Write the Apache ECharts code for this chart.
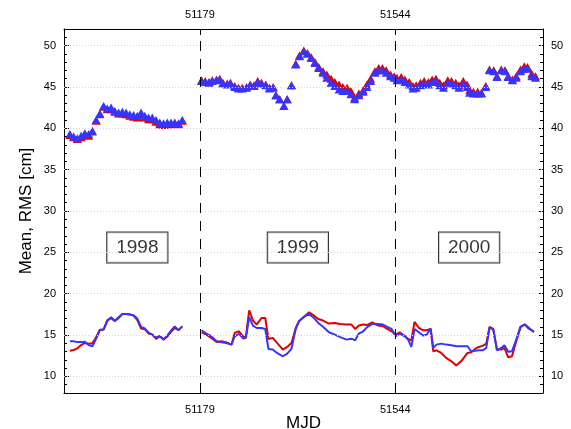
<!DOCTYPE html>
<html><head><meta charset="utf-8">
<script src="https://cdn.jsdelivr.net/npm/echarts@6/dist/echarts.min.js"></script>
<style>html,body{margin:0;padding:0;background:#fff}#c{width:571px;height:429px}</style>
</head><body><div id="c"></div>
<script>
// ---- data ----
const mjd98 = [50936,50943,50950,50957,50964,50971,50978,50985,50992,50999,51006,51013,51020,51027,51034,51041,51048,51055,51062,51069,51076,51083,51090,51097,51104,51111,51118,51125,51132,51139,51146];
const meanBlue98 = [39.3,39.0,38.8,39.1,39.4,39.3,39.7,41.0,41.8,42.7,42.4,42.5,42.1,41.9,42.0,41.9,41.7,41.6,41.5,41.9,41.5,41.3,41.3,41.0,40.7,40.6,40.7,40.7,40.7,40.6,41.0];
const meanRed98 = [39.2,38.9,38.7,38.9,39.2,39.1,39.6,40.9,41.7,42.6,42.3,42.3,42.0,41.8,41.8,41.7,41.5,41.4,41.3,41.7,41.3,41.1,41.1,40.8,40.5,40.4,40.5,40.5,40.6,40.5,40.9];
const rmsBlue98 = [14.25,14.25,14.15,14.15,14.2,13.8,13.65,14.55,15.6,15.7,16.7,17.15,16.7,17.15,17.55,17.55,17.5,17.4,17.0,16.0,15.8,15.3,15.05,14.7,14.9,14.5,14.95,15.55,16.05,15.6,16.05];
const rmsRed98 = [13.1,13.2,13.4,13.8,14.05,13.95,14.0,14.75,15.65,15.65,16.8,17.05,16.7,17.05,17.55,17.55,17.5,17.35,16.8,15.8,15.7,15.2,15.05,14.55,14.85,14.45,14.8,15.4,15.85,15.6,16.05];

const mjdMean99 = [51182,51189,51196,51202,51210,51216,51222,51230,51236,51244,51251,51258,51266,51273,51280,51287,51294,51302,51309,51316,51321,51328,51336,51342,51350,51358,51365,51373,51380,51387,51394,51401,51409,51416,51424,51431,51439,51446,51454,51461,51468,51476,51484,51491,51498,51506,51513,51520,51527,51535,51542,
  51547,51555,51562,51570,51577,51583,51591,51598,51606,51613,51620,51627,51634,51642,51649,51657,51663,51671,51678,51683,51690,51698,51705,51713,51720,51728,51734,51742,51749,51755,51763,51770,51778,51785,51791,51799,51806];
const meanBlue99 = [45.7,45.6,45.5,45.7,45.8,45.9,45.4,45.3,45.4,45.0,44.8,44.8,44.9,45.2,45.1,45.6,45.4,45.2,44.8,44.9,44.0,43.5,42.7,43.5,45.2,47.7,48.7,49.3,49.0,48.5,47.9,47.3,46.7,46.1,45.5,45.1,44.7,44.5,44.5,44.1,43.5,44.0,44.4,45.0,45.7,46.7,47.0,47.0,46.7,46.3,46.1,
  45.8,45.9,45.6,45.3,44.8,44.9,45.2,45.4,45.3,45.6,45.7,45.2,44.9,45.5,45.4,45.2,44.9,45.4,45.0,44.3,44.2,44.2,44.2,45.0,47.0,46.9,46.2,47.0,46.9,46.2,45.8,46.1,46.9,47.2,47.2,46.3,46.1];
const meanRed99 = [45.8,45.7,45.6,45.8,45.9,46.0,45.5,45.4,45.5,45.1,44.9,44.9,45.0,45.3,45.2,45.7,45.5,45.3,44.9,45.0,44.0,43.5,42.7,43.5,45.2,47.8,48.8,49.4,49.1,48.6,48.0,47.4,46.9,46.5,46.0,45.6,45.3,45.0,44.9,44.5,43.7,44.2,44.6,45.3,46.0,46.9,47.3,47.3,47.0,46.5,46.3,
  46.1,46.2,45.9,45.6,45.1,45.2,45.5,45.7,45.6,45.9,46.0,45.5,45.2,45.8,45.7,45.5,45.2,45.7,45.3,44.6,44.4,44.4,44.3,45.1,47.1,47.0,46.3,47.1,47.0,46.3,45.9,46.3,47.1,47.5,47.4,46.6,46.3];

const mjdRms99 = [51182,51191,51200,51210,51219,51228,51238,51244,51252,51260,51265,51271,51278,51285,51294,51301,51307,51315,51323,51334,51342,51350,51358,51364,51373,51383,51392,51400,51408,51420,51431,51440,51453,51462,51469,51476,51484,51492,51501,51512,51521,51529,51537,51545,
  51552,51562,51568,51574,51580,51588,51596,51603,51610,51615,51621,51630,51639,51649,51658,51667,51679,51686,51693,51700,51708,51714,51720,51727,51734,51742,51748,51755,51762,51770,51778,51786,51794,51803];
const rmsBlue99 = [15.58,15.18,14.86,14.25,14.13,14.05,13.85,14.86,15.14,14.57,14.66,17.2,16.15,15.86,15.86,15.74,13.33,13.25,12.84,12.44,12.76,13.33,15.74,16.67,17.2,17.56,17.07,16.47,16.07,15.34,15.06,14.78,14.45,14.57,14.37,15.18,15.46,15.99,16.35,16.35,16.27,15.99,15.74,14.86,
  15.18,14.86,14.45,13.57,15.74,15.34,14.94,15.06,15.82,13.45,13.85,13.97,13.85,13.77,13.65,13.65,13.65,13.04,13.12,13.16,13.16,13.45,15.86,15.74,13.16,13.45,13.77,13.0,13.04,14.45,15.99,16.31,15.86,15.34];
const rmsRed99 = [15.34,15.06,14.66,14.17,14.25,14.13,13.85,15.26,15.46,14.78,14.86,18.0,16.79,16.27,17.07,17.07,14.53,14.66,14.05,13.25,13.57,14.05,15.86,16.67,17.2,17.76,17.36,16.95,16.79,16.39,16.47,16.35,16.27,16.27,15.74,16.15,16.27,16.23,16.55,16.15,16.07,15.74,15.46,15.06,
  15.34,14.86,14.53,14.37,16.59,15.86,15.58,15.58,15.74,13.04,13.16,12.84,12.24,11.83,11.31,11.83,12.84,12.92,13.33,13.57,13.73,13.97,15.99,15.74,13.25,13.25,13.45,12.32,12.44,14.25,15.99,16.27,15.74,15.46];

const yearLabels = ['1998','1999','2000'];
const xTickValues = [51179, 51544];
const yTickValues = [10,15,20,25,30,35,40,45,50];

// ---- chart ----
const FONT = '"Liberation Sans", Arial, Helvetica, sans-serif';
const BLUE = '#3535ff', RED = '#e00000';
const zip = (xs, ys) => xs.map((x, i) => [x, ys[i]]);

const xBase = (pos) => ({
  type: 'value', position: pos, min: 50925, max: 51820,
  axisLine: { show: true, onZero: false, lineStyle: { color: '#000', width: 1 } },
  axisTick: { show: true, inside: true, length: 6, customValues: xTickValues, lineStyle: { color: '#000' } },
  axisLabel: { show: true, customValues: xTickValues, formatter: v => String(v), fontSize: 11, color: '#000', margin: pos === 'top' ? 9 : 11, fontFamily: FONT },
  splitLine: { show: false }
});
const yMinor = (pos) => ({
  type: 'value', position: pos, min: 8, max: 52, interval: 1,
  axisLine: { show: true, onZero: false, lineStyle: { color: '#000', width: 1 } },
  axisTick: { show: true, inside: true, length: 3, lineStyle: { color: '#000' } },
  axisLabel: { show: true, formatter: v => (v % 5 === 0 && v >= 10 && v <= 50) ? String(v) : '', fontSize: 11, color: '#000', margin: 8, fontFamily: FONT },
  splitLine: { show: false }
});
const yMajor = (pos) => ({
  type: 'value', position: pos, min: 8, max: 52,
  axisLine: { show: false, onZero: false },
  axisTick: { show: true, inside: true, length: 5, customValues: yTickValues, lineStyle: { color: '#000' } },
  axisLabel: { show: false },
  splitLine: { show: false }
});

const xb = xBase('bottom');
xb.name = 'MJD'; xb.nameLocation = 'middle'; xb.nameGap = 22; xb.nameMoveOverlap = false;
xb.nameTextStyle = { fontSize: 17, color: '#000', fontFamily: FONT };
const yl = yMinor('left');
yl.name = 'Mean, RMS [cm]'; yl.nameLocation = 'middle'; yl.nameGap = 29; yl.nameMoveOverlap = false;
yl.nameTextStyle = { fontSize: 17, color: '#000', fontFamily: FONT };

const tri = (color, z) => ({ symbol: 'triangle', symbolSize: [9, 8], itemStyle: { color: color, opacity: 1, borderWidth: 0 }, z: z });

const chart = echarts.init(document.getElementById('c'), null, { renderer: 'canvas' });
chart.setOption({
  animation: false,
  backgroundColor: '#fff',
  grid: { left: 64, right: 28, top: 29, bottom: 36, containLabel: false, outerBoundsMode: 'none' },
  xAxis: [xb, xBase('top')],
  yAxis: [yl, yMinor('right'), yMajor('left'), yMajor('right')],
  series: [
    { type: 'line', data: [], z: 1, silent: true,
      markLine: { silent: true, symbol: 'none', label: { show: false }, animation: false,
        data: [
          ...yTickValues.map(v => ({ yAxis: v, lineStyle: { color: '#d8d8d8', type: [1, 2], width: 1 } })),
          ...xTickValues.map(v => ({ xAxis: v, lineStyle: { color: '#000', type: [10, 8], width: 1 } }))
        ] } },
    Object.assign({ type: 'scatter', data: zip(mjd98, meanRed98) }, tri(RED, 2)),
    Object.assign({ type: 'scatter', data: zip(mjdMean99, meanRed99) }, tri(RED, 2)),
    Object.assign({ type: 'scatter', data: zip(mjd98, meanBlue98) }, tri(BLUE, 3)),
    Object.assign({ type: 'scatter', data: zip(mjdMean99, meanBlue99) }, tri(BLUE, 3)),
    { type: 'line', data: zip(mjd98, rmsRed98), showSymbol: false, symbol: 'none', lineStyle: { color: RED, width: 2 }, z: 2 },
    { type: 'line', data: zip(mjdRms99, rmsRed99), showSymbol: false, symbol: 'none', lineStyle: { color: RED, width: 2 }, z: 2 },
    { type: 'line', data: zip(mjd98, rmsBlue98), showSymbol: false, symbol: 'none', lineStyle: { color: BLUE, width: 2 }, z: 3 },
    { type: 'line', data: zip(mjdRms99, rmsBlue99), showSymbol: false, symbol: 'none', lineStyle: { color: BLUE, width: 2 }, z: 3 },
    { type: 'scatter', data: [[51062, 25.6], [51362, 25.6], [51682, 25.6]], symbolSize: 0, z: 4, silent: true,
      label: { show: true, position: 'inside', formatter: p => yearLabels[p.dataIndex],
        fontSize: 19, color: '#000', fontFamily: FONT, borderColor: '#000', borderWidth: 1,
        padding: [6, 9, 5, 9], backgroundColor: '#fff' } }
  ]
});
</script>
</body></html>
